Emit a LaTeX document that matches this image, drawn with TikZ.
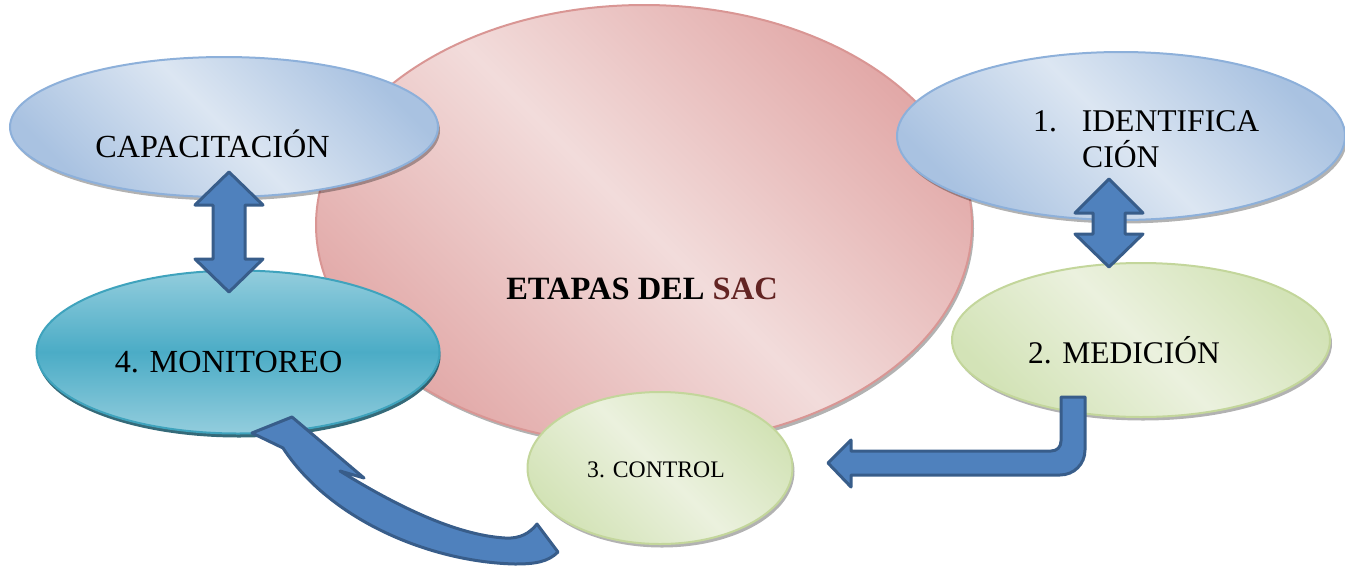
\documentclass[tikz,border=0pt]{standalone}
\usepackage{fontspec}
\setmainfont{Liberation Serif}
\usetikzlibrary{shapes.geometric,shadows}
\definecolor{pinkEdge}{HTML}{E2A9A8}
\definecolor{pinkMid}{HTML}{F2DCDB}
\definecolor{pinkLine}{HTML}{D99694}
\definecolor{blueEdge}{HTML}{A9C2E1}
\definecolor{blueMid}{HTML}{DCE6F2}
\definecolor{blueLine}{HTML}{8DB0DA}
\definecolor{tealLight}{HTML}{93CDDD}
\definecolor{tealMid}{HTML}{4BACC6}
\definecolor{tealLine}{HTML}{3FA3BD}
\definecolor{tealShadow}{HTML}{1F5A6A}
\definecolor{greenEdge}{HTML}{D3E3B7}
\definecolor{greenMid}{HTML}{EBF1DE}
\definecolor{greenLine}{HTML}{C3D69B}
\definecolor{arrowFill}{HTML}{4F81BD}
\definecolor{arrowLine}{HTML}{385D8A}
\definecolor{sacRed}{HTML}{632423}
\tikzset{
  bubble/.style={ellipse, inner sep=0pt, line width=2pt,
    drop shadow={shadow xshift=2pt, shadow yshift=-3.5pt, fill=black, opacity=0.3}},
  pinkbubble/.style={bubble, draw=pinkLine, top color=pinkEdge, bottom color=pinkEdge, middle color=pinkMid, shading angle=-45},
  bluebubble/.style={bubble, draw=blueLine, top color=blueEdge, bottom color=blueEdge, middle color=blueMid, shading angle=-45},
  greenbubble/.style={bubble, draw=greenLine, top color=greenEdge, bottom color=greenEdge, middle color=greenMid, shading angle=-45},
  tealbubble/.style={ellipse, inner sep=0pt, line width=2pt, draw=tealLine,
    drop shadow={shadow xshift=1pt, shadow yshift=-4pt, fill=tealShadow, opacity=0.9},
    top color=tealLight, bottom color=tealLight, middle color=tealMid},
  blockarrow/.style={fill=arrowFill, draw=arrowLine, line width=3pt, line join=round},
  label/.style={inner sep=0pt, text=black},
  bigtext/.style={label, font=\fontsize{32.2}{36}\selectfont}
}
\begin{document}
\begin{tikzpicture}[x=1pt,y=-1pt]
\useasboundingbox (0,0) rectangle (1345,566);
% bubbles
\node[pinkbubble, minimum width=656pt, minimum height=440pt] (sac) at (644,225) {};
\node[bluebubble, minimum width=428pt, minimum height=140pt] (cap) at (224,127) {};
\node[tealbubble, minimum width=403pt, minimum height=163pt] (mon) at (238,352) {};
\node[bluebubble, minimum width=448pt, minimum height=168pt] (ide) at (1121,136) {};
\node[greenbubble, minimum width=378pt, minimum height=154pt] (med) at (1141,340) {};
\node[greenbubble, minimum width=265pt, minimum height=152pt] (ctl) at (660,468) {};
% texts
\node[bigtext, anchor=base] (capT) at (212.5,157) {CAPACITACIÓN};
\node[bigtext, anchor=base] (monT) at (228.5,372) {4. MONITOREO};
\node[label, anchor=base, font=\fontsize{32.5}{36}\selectfont\bfseries] (sacT) at (642,299) {ETAPAS DEL \textcolor{sacRed}{SAC}};
\node[bigtext, anchor=base west, font=\fontsize{31.6}{36}\selectfont] (ideT1) at (1033,131) {1.\hspace*{25pt}IDENTIFICA};
\node[bigtext, anchor=base west, font=\fontsize{31.6}{36}\selectfont] (ideT2) at (1082,167) {CIÓN};
\node[label, anchor=base, font=\fontsize{31.5}{36}\selectfont] (medT) at (1124,363) {2. MEDICIÓN};
\node[label, anchor=base, font=\fontsize{23.7}{28}\selectfont] (ctlT) at (656,477) {3. CONTROL};
% double arrows
\draw[blockarrow] (229,172) -- (263,205) -- (245,205) -- (245,259) -- (263,259) -- (229,292)
  -- (195,259) -- (213,259) -- (213,205) -- (195,205) -- cycle;
\draw[blockarrow] (1109,179) -- (1143,213) -- (1125,213) -- (1125,234) -- (1143,234) -- (1109,267)
  -- (1075,234) -- (1093,234) -- (1093,213) -- (1075,213) -- cycle;
% bent arrow medicion -> control
\draw[blockarrow] (1061,397) -- (1085,397) -- (1085,450)
  .. controls (1085,464) and (1074,475) .. (1060,475)
  -- (851,475) -- (851,487) -- (828,463) -- (851,440) -- (851,451) -- (1051,451)
  .. controls (1057,451) and (1061,447) .. (1061,441) -- cycle;
% curved arrow control -> monitoreo
\draw[blockarrow] (252,433) -- (292,417) -- (364,478) -- (340,471)
  .. controls (395,505) and (455,535) .. (505,538)
  .. controls (520,539) and (530,533) .. (537,524)
  -- (558,552)
  .. controls (548,562) and (535,564) .. (515,564)
  .. controls (430,562) and (330,520) .. (283,448) -- cycle;
\end{tikzpicture}
\end{document}
